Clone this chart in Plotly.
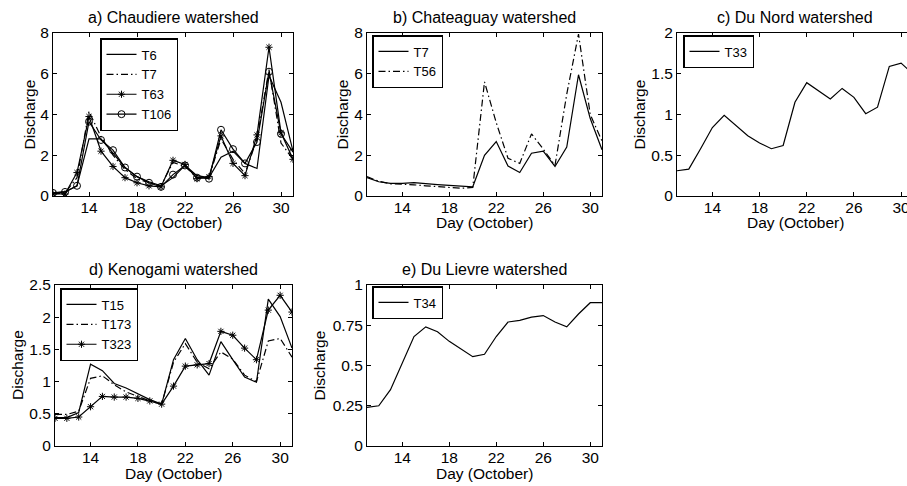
import plotly.graph_objects as go

W, H = 907, 486

days = list(range(11, 32))

# a) Chaudiere
a_T6 = [0.15, 0.2, 0.5, 2.8, 2.8, 2.1, 1.4, 0.95, 0.7, 0.5, 0.9, 1.5, 1.0, 0.9, 1.9, 2.2, 1.6, 1.35, 5.9, 4.6, 2.2]
a_T7 = [0.1, 0.15, 0.9, 4.15, 2.9, 2.0, 1.3, 0.85, 0.65, 0.5, 1.65, 1.45, 0.9, 0.9, 2.8, 1.8, 1.1, 2.8, 6.2, 2.6, 1.8]
a_T63 = [0.1, 0.1, 1.15, 3.9, 2.2, 1.45, 0.9, 0.65, 0.5, 0.45, 1.75, 1.55, 0.85, 0.95, 2.95, 1.6, 1.0, 3.0, 7.3, 3.1, 1.8]
a_T106 = [0.15, 0.2, 0.5, 3.65, 2.75, 2.25, 1.4, 0.95, 0.65, 0.45, 1.05, 1.5, 0.9, 0.85, 3.25, 2.3, 1.6, 2.65, 6.1, 3.05, 2.15]

# b) Chateauguay
b_T7 = [0.9, 0.7, 0.62, 0.62, 0.66, 0.6, 0.56, 0.52, 0.47, 0.45, 2.0, 2.67, 1.47, 1.15, 2.1, 2.2, 1.45, 2.4, 5.95, 3.8, 2.27]
b_T56 = [0.95, 0.72, 0.6, 0.58, 0.55, 0.5, 0.45, 0.42, 0.38, 0.42, 5.6, 3.6, 1.85, 1.6, 3.05, 2.3, 1.5, 5.0, 7.95, 4.0, 2.7]

# c) Du Nord
c_T33 = [0.31, 0.33, 0.58, 0.84, 0.99, 0.86, 0.74, 0.65, 0.58, 0.62, 1.15, 1.39, 1.29, 1.19, 1.32, 1.21, 1.01, 1.09, 1.59, 1.63, 1.5]

# d) Kenogami
d_T15 = [0.44, 0.44, 0.52, 1.27, 1.17, 0.97, 0.9, 0.81, 0.72, 0.65, 1.34, 1.67, 1.34, 1.1, 1.62, 1.34, 1.07, 0.99, 2.28, 2.01, 1.52]
d_T173 = [0.49, 0.49, 0.54, 1.05, 1.09, 0.95, 0.84, 0.77, 0.7, 0.65, 1.3, 1.59, 1.3, 1.2, 1.46, 1.35, 1.1, 1.0, 1.63, 1.67, 1.38]
d_T323 = [0.43, 0.43, 0.45, 0.61, 0.77, 0.76, 0.76, 0.74, 0.7, 0.65, 0.93, 1.24, 1.26, 1.28, 1.78, 1.72, 1.52, 1.34, 2.11, 2.34, 2.08]

# e) Du Lievre
e_T34 = [0.24, 0.25, 0.35, 0.52, 0.68, 0.74, 0.71, 0.65, 0.6, 0.555, 0.57, 0.68, 0.77, 0.78, 0.8, 0.81, 0.77, 0.74, 0.82, 0.89, 0.89]

titles = ["a) Chaudiere watershed", "b) Chateaguay watershed", "c) Du Nord watershed",
          "d) Kenogami watershed", "e) Du Lievre watershed"]
x_ticks = [14, 18, 22, 26, 30]
y_ticks_ab = [0, 2, 4, 6, 8]
y_ticks_c = [0, 0.5, 1, 1.5, 2]
y_ticklabels_c = ["0", "0.5", "1", "1.5", "2"]
y_ticks_d = [0, 0.5, 1, 1.5, 2, 2.5]
y_ticklabels_d = ["0", "0.5", "1", "1.5", "2", "2.5"]
y_ticks_e = [0, 0.25, 0.5, 0.75, 1]
y_ticklabels_e = ["0", "0.25", "0.5", "0.75", "1"]

FONT = "Liberation Sans, Arial, Helvetica, sans-serif"
FS = 15.5
TFS = 16
LFS = 13
DASHDOT = "7px,3px,1.5px,3px"

# pixel boxes: (left, right, top, bottom)
boxes = [(53, 293, 33, 196), (367, 602, 33, 196), (677, 907, 33, 196),
         (55, 292, 285, 446), (367, 602, 285, 446)]
xranges = [[11, 31], [11, 31], [11, 30.5], [11, 31], [11, 31]]
yranges = [[0, 8], [0, 8], [0, 2], [0, 2.5], [0, 1]]
yticks = [(y_ticks_ab, [str(v) for v in y_ticks_ab]), (y_ticks_ab, [str(v) for v in y_ticks_ab]),
          (y_ticks_c, y_ticklabels_c), (y_ticks_d, y_ticklabels_d), (y_ticks_e, y_ticklabels_e)]
ylabel_x = [29, 342, 639, 17.5, 319]
legend_pos = [(100, 38), (372, 35), (683, 35), (60, 288), (372, 286)]

fig = go.Figure()

def add(i, y, name, dash="solid", symbol=None, msize=6):
    sfx = "" if i == 0 else str(i + 1)
    mode = "lines" if symbol is None else "lines+markers"
    tr = dict(x=days, y=y, name=name, mode=mode,
              line=dict(color="black", width=1.2, dash=dash),
              xaxis="x" + sfx, yaxis="y" + sfx,
              legend="legend" + sfx)
    if symbol is not None:
        tr["marker"] = dict(symbol=symbol, size=msize, color="black",
                            line=dict(color="black", width=1.0))
    fig.add_trace(go.Scatter(**tr))

add(0, a_T6, "T6")
add(0, a_T7, "T7", dash=DASHDOT)
add(0, a_T63, "T63", symbol="asterisk-open", msize=6)
add(0, a_T106, "T106", symbol="circle-open", msize=7)
add(1, b_T7, "T7")
add(1, b_T56, "T56", dash=DASHDOT)
add(2, c_T33, "T33")
add(3, d_T15, "T15")
add(3, d_T173, "T173", dash=DASHDOT)
add(3, d_T323, "T323", symbol="asterisk-open", msize=6)
add(4, e_T34, "T34")

layout = dict(width=W, height=H, margin=dict(l=0, r=0, t=0, b=0, autoexpand=False),
              paper_bgcolor="white", plot_bgcolor="white",
              font=dict(family=FONT, size=FS, color="black"),
              showlegend=True, annotations=[])

for i, (l, r, t, b) in enumerate(boxes):
    sfx = "" if i == 0 else str(i + 1)
    xd = [l / W, r / W]
    yd = [1 - b / H, 1 - t / H]
    layout["xaxis" + sfx] = dict(domain=xd, range=xranges[i], anchor="y" + sfx,
                                 tickmode="array", tickvals=x_ticks,
                                 ticks="inside", ticklen=4, tickcolor="black",
                                 showline=True, linecolor="black", linewidth=1,
                                 mirror="ticks", showgrid=False, zeroline=False,
                                 automargin=False, ticklabelstandoff=-3,
                                 ticklabeloverflow="allow",
                                 tickfont=dict(size=FS), fixedrange=True)
    layout["yaxis" + sfx] = dict(domain=yd, range=yranges[i], anchor="x" + sfx,
                                 tickmode="array", tickvals=yticks[i][0], ticktext=yticks[i][1],
                                 ticks="inside", ticklen=4, tickcolor="black",
                                 showline=True, linecolor="black", linewidth=1,
                                 mirror=("ticks" if i != 2 else False),
                                 showgrid=False, zeroline=False, automargin=False,
                                 ticklabeloverflow="allow",
                                 tickfont=dict(size=FS), fixedrange=True)
    lx, ly = legend_pos[i]
    layout["legend" + sfx] = dict(x=lx / W, y=1 - ly / H, xanchor="left", yanchor="top",
                                  xref="paper", yref="paper",
                                  bgcolor="white", bordercolor="black", borderwidth=1.5,
                                  font=dict(size=LFS), tracegroupgap=0, itemwidth=30)
    cx = (l + r) / 2
    if i == 2:
        cx = (677 + 913) / 2
    layout["annotations"].append(dict(text=titles[i], x=cx / W, y=1 - (t - 16) / H,
                                      xref="paper", yref="paper", showarrow=False,
                                      xanchor="center", yanchor="middle", font=dict(size=TFS)))
    layout["annotations"].append(dict(text="Day (October)", x=cx / W, y=1 - (b + 27) / H,
                                      xref="paper", yref="paper", showarrow=False,
                                      xanchor="center", yanchor="middle", font=dict(size=FS)))
    layout["annotations"].append(dict(text="Discharge", x=ylabel_x[i] / W, y=1 - ((t + b) / 2) / H,
                                      xref="paper", yref="paper", showarrow=False, textangle=-90,
                                      xanchor="center", yanchor="middle", font=dict(size=FS)))

fig.update_layout(**layout)
fig.write_html("out.html", config={"displayModeBar": False},
               post_script="document.body.style.margin='0';document.body.style.padding='0';")
